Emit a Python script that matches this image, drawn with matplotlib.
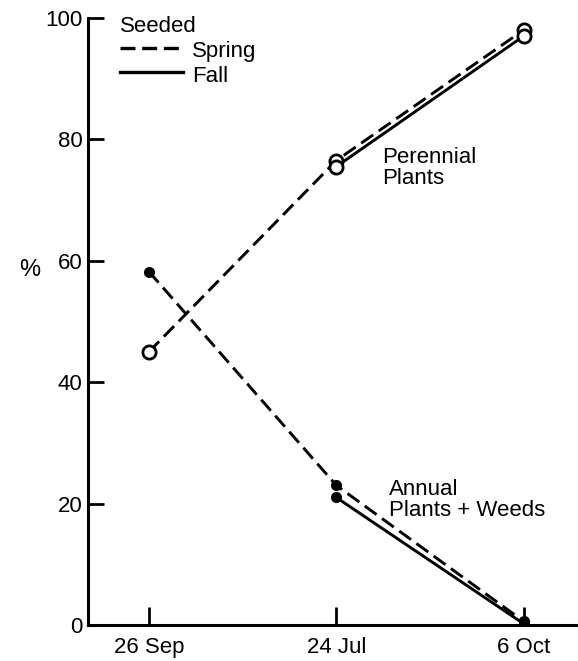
import matplotlib
matplotlib.use('Agg')
import matplotlib.pyplot as plt

dates = ['26 Sep', '24 Jul', '6 Oct']
xpos = [0, 1, 2]

per_spring = [45, 76.5, 98]
per_fall = [75.5, 97]
ann_spring = [58.2, 23, 0.6]
ann_fall = [21, 0.2]

plt.rcParams['font.family'] = ['Liberation Sans', 'DejaVu Sans']

fig = plt.figure(figsize=(5.78, 6.61), dpi=100)
ax = fig.add_axes([0.152, 0.0545, 0.848, 0.9185])

dash = (0, (5, 2.3))
lw = 2.1

# perennial plants
ax.plot(xpos, per_spring, color='black', lw=lw, linestyle=dash,
        marker='o', markersize=9.5, markerfacecolor='white', markeredgewidth=2)
ax.plot(xpos[1:], per_fall, color='black', lw=lw,
        marker='o', markersize=9.5, markerfacecolor='white', markeredgewidth=2)

# annual plants + weeds
ax.plot(xpos, ann_spring, color='black', lw=lw, linestyle=dash,
        marker='o', markersize=7, markerfacecolor='black')
ax.plot(xpos[1:], ann_fall, color='black', lw=lw,
        marker='o', markersize=7, markerfacecolor='black')

ax.set_xlim(-0.326, 2.29)
ax.set_ylim(0, 100)
ax.set_xticks(xpos)
ax.set_xticklabels(dates)
ax.set_yticks([0, 20, 40, 60, 80, 100])

for s in ['top', 'right']:
    ax.spines[s].set_visible(False)
for s in ['left', 'bottom']:
    ax.spines[s].set_linewidth(2.2)

ax.tick_params(axis='y', direction='in', length=11.5, width=2, labelsize=16, pad=4)
ax.tick_params(axis='x', direction='in', length=13, width=2, labelsize=16, pad=9)

ax.set_ylabel('%', fontsize=17, rotation=0, va='center')
ax.yaxis.set_label_coords(-0.118, 0.585)

# text annotations
ax.text(1.246, 75.3, 'Perennial\nPlants', fontsize=16, va='center', ha='left', linespacing=1.0)
ax.text(1.28, 20.6, 'Annual\nPlants + Weeds', fontsize=16, va='center', ha='left', linespacing=1.0)

# hand drawn key
ax.text(0.065, 0.985, 'Seeded', transform=ax.transAxes, fontsize=16,
        va='center', ha='left')
ax.plot([0.065, 0.194], [0.951, 0.951], transform=ax.transAxes, color='black',
        lw=2.4, linestyle=(0, (4.5, 2)))
ax.text(0.212, 0.944, 'Spring', transform=ax.transAxes, fontsize=16, va='center', ha='left')
ax.plot([0.065, 0.194], [0.911, 0.911], transform=ax.transAxes, color='black', lw=2.4)
ax.text(0.212, 0.904, 'Fall', transform=ax.transAxes, fontsize=16, va='center', ha='left')

fig.savefig('out.png', dpi=100)
